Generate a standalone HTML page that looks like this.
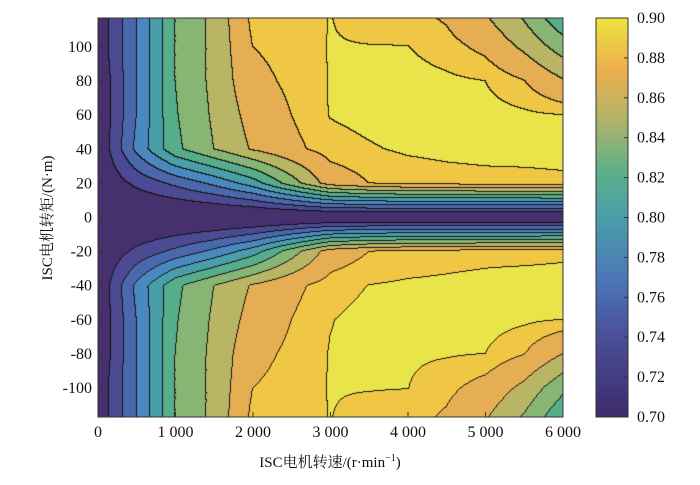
<!DOCTYPE html>
<html><head><meta charset="utf-8"><style>
body{margin:0;background:#fff;width:700px;height:485px;overflow:hidden;position:relative;font-family:"Liberation Serif","Noto Serif CJK SC",serif}
#plot{position:absolute;left:98px;top:18px}
svg{position:absolute;left:0;top:0}
</style></head><body>
<canvas id="plot" width="465" height="399"></canvas>
<svg id="ax" width="700" height="485"></svg>
<script>
const speeds = [0,500,1000,1500,2000,2500,3000,3500,4000,4500,5000,5500,6000];
const torques = [120,100,80,60,40,20,0,-20,-40,-60,-80,-100,-120];
const eff120  = [.705,.76,.82,.845,.885,.886,.8902,.886,.884,.877,.86,.835,.80];
const eff100  = [.705,.76,.82,.845,.88,.885,.8905,.8903,.8902,.885,.876,.856,.83];
const eff80   = [.70,.76,.82,.845,.875,.883,.8905,.893,.894,.892,.89,.8805,.862];
const eff60   = [.70,.76,.818,.843,.868,.88,.8905,.893,.895,.895,.894,.892,.89];
const eff40   = [.70,.765,.815,.84,.862,.876,.886,.889,.8915,.8925,.893,.8935,.8935];
const eff20   = [.70,.725,.745,.765,.79,.83,.87,.88,.884,.886,.887,.887,.888];
const eff0    = [.69,.69,.69,.69,.69,.69,.69,.69,.69,.69,.69,.69,.69];
const effM20  = [.70,.725,.745,.765,.79,.83,.87,.88,.884,.886,.887,.887,.888];
const effM40  = [.70,.765,.815,.84,.862,.876,.886,.8902,.8915,.892,.893,.894,.894];
const effM60  = [.70,.76,.818,.843,.868,.88,.8896,.893,.895,.895,.894,.892,.89];
const effM80  = [.70,.76,.82,.845,.875,.883,.8905,.8925,.8915,.891,.89,.8805,.86];
const effM100 = [.705,.76,.82,.845,.88,.885,.8905,.8905,.8902,.8835,.874,.855,.825];
const effM120 = [.705,.76,.82,.845,.885,.886,.8902,.886,.884,.877,.86,.835,.80];
const effRows = [eff120,eff100,eff80,eff60,eff40,eff20,eff0,effM20,effM40,effM60,effM80,effM100,effM120];
const levels = [0.72,0.74,0.76,0.78,0.80,0.82,0.84,0.86,0.88,0.89];
const bandColors = ['#46306e','#4b4a92','#4c68ad','#4a89c0','#4a9eaa','#55ad8a','#86b574','#b8b565','#e6ae52','#f0c745','#e9e44a'];
const xTicks = [0,1000,2000,3000,4000,5000,6000];
const xTickLabels = ['0','1 000','2 000','3 000','4 000','5 000','6 000'];
const yTicks = [100,80,60,40,20,0,-20,-40,-60,-80,-100];
const cbTicks = [0.70,0.72,0.74,0.76,0.78,0.80,0.82,0.84,0.86,0.88,0.90];

const PX=98, PY=18, PW=465, PH=399, YMAX=117, YMIN=-117;
const sx = v => PX + v/6000*PW;
const sy = v => PY + (YMAX - v)/(YMAX-YMIN)*PH;
const cbY = v => 417 - (v-0.70)/0.20*399;

function interp(s,t){
  let i=0; while(i<speeds.length-2 && s>speeds[i+1]) i++;
  let j=0; while(j<torques.length-2 && t<torques[j+1]) j++;
  const fx=(s-speeds[i])/(speeds[i+1]-speeds[i]);
  const fy=(torques[j]-t)/(torques[j]-torques[j+1]);
  const a=effRows[j][i],b=effRows[j][i+1],c=effRows[j+1][i],d=effRows[j+1][i+1];
  return a*(1-fx)*(1-fy)+b*fx*(1-fy)+c*(1-fx)*fy+d*fx*fy;
}
function band(z){let k=0;while(k<levels.length&&z>=levels[k])k++;return k;}
const cv=document.getElementById('plot'),ctx=cv.getContext('2d');
const img=ctx.createImageData(PW,PH);
const B=[];
for(let y=0;y<PH;y++){B.push([]);for(let x=0;x<PW;x++){
  const s=(x+0.5)/PW*6000, t=YMAX-(y+0.5)/PH*(YMAX-YMIN);
  B[y].push(band(interp(s,t)));}}
function hex(h){return [parseInt(h.substr(1,2),16),parseInt(h.substr(3,2),16),parseInt(h.substr(5,2),16)];}
const cols=bandColors.map(hex);
for(let y=0;y<PH;y++)for(let x=0;x<PW;x++){
  let c=cols[B[y][x]];
  const edge=(x<PW-1&&B[y][x+1]!==B[y][x])||(y<PH-1&&B[y+1][x]!==B[y][x]);
  if(edge)c=[20,20,20];
  const o=(y*PW+x)*4;img.data[o]=c[0];img.data[o+1]=c[1];img.data[o+2]=c[2];img.data[o+3]=255;
}
ctx.putImageData(img,0,0);

const svg=document.getElementById('ax'),NS='http://www.w3.org/2000/svg';
function mk(tag,attrs,txt){const e=document.createElementNS(NS,tag);for(const k in attrs)e.setAttribute(k,attrs[k]);if(txt!==undefined)e.textContent=txt;svg.appendChild(e);return e;}
let e;
e=mk('rect',{x:PX,y:PY,width:PW,height:PH,fill:'none',stroke:'#333','stroke-width':1});


xTicks.forEach((v,i)=>{
  e=mk('line',{x1:sx(v),x2:sx(v),y1:417,y2:412,stroke:'#333'});
  
  
  e=mk('text',{x:sx(v),y:437,'text-anchor':'middle','font-size':16,fill:'#111'},xTickLabels[i]);
  
  
});
yTicks.forEach(v=>{
  e=mk('line',{x1:PX,x2:PX+5,y1:sy(v),y2:sy(v),stroke:'#333'});
  
  
  e=mk('text',{x:92,y:sy(v)+5,'text-anchor':'end','font-size':16,fill:'#111'},String(v));
  
  
});
const defs=mk('defs',{});
const g=document.createElementNS(NS,'linearGradient');g.setAttribute('id','parula');g.setAttribute('x1','0');g.setAttribute('y1','1');g.setAttribute('x2','0');g.setAttribute('y2','0');defs.appendChild(g);
[['0','#3e2a6b'],['0.2','#4a4f99'],['0.35','#4b78b8'],['0.5','#4a9eaa'],['0.62','#5fb088'],['0.75','#b4b466'],['0.87','#eeae4c'],['1','#ece43c']].forEach(s=>{const st=document.createElementNS(NS,'stop');st.setAttribute('offset',s[0]);st.setAttribute('stop-color',s[1]);g.appendChild(st);});
e=mk('rect',{x:596,y:18,width:32,height:399,fill:'url(#parula)',stroke:'#333'});


cbTicks.forEach(v=>{
  e=mk('line',{x1:624,x2:628,y1:cbY(v),y2:cbY(v),stroke:'#333'});
  
  
  e=mk('text',{x:637,y:cbY(v)+5,'font-size':16,fill:'#111'},v.toFixed(2));
  
  
});
e=mk('text',{x:330,y:467,'text-anchor':'middle','font-size':15,fill:'#111'});


e.innerHTML='ISC电机转速/(r·min<tspan dy="-6" font-size="10">−1</tspan><tspan dy="6">)</tspan>';
e=mk('text',{x:0,y:0,'text-anchor':'middle','font-size':15,fill:'#111',transform:'translate(52,218) rotate(-90)'},'ISC电机转矩/(N·m)');


</script>
</body></html>
